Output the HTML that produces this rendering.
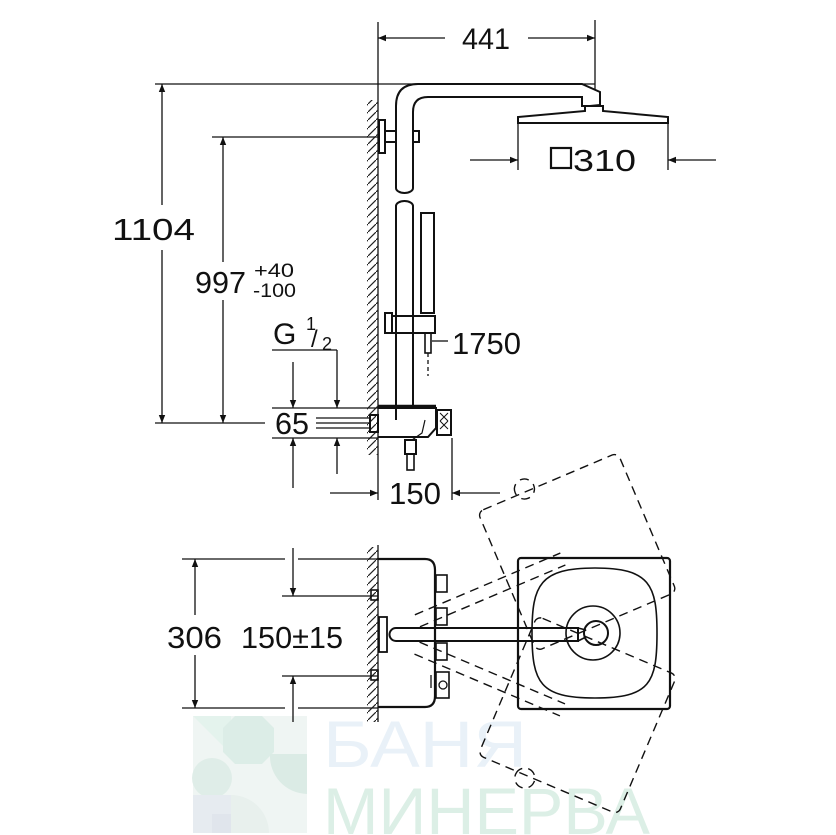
<!DOCTYPE html>
<html><head><meta charset="utf-8"><style>
html,body{margin:0;padding:0;background:#fff;}
svg{display:block;}
text{font-family:"Liberation Sans",Arial,sans-serif;fill:#111;}
</style></head><body>
<svg width="836" height="835" viewBox="0 0 836 835" xmlns="http://www.w3.org/2000/svg">
<defs>
<marker id="a" viewBox="0 0 10 10" refX="10" refY="5" markerWidth="14" markerHeight="8" markerUnits="userSpaceOnUse" orient="auto"><path d="M0,1 L10,5 L0,9z" fill="#111"/></marker>
<pattern id="h" width="8" height="8" patternUnits="userSpaceOnUse"><path d="M0,8 L8,0" stroke="#222" stroke-width="1.2"/></pattern>
</defs>

<g opacity="0.9">
<rect x="193" y="716" width="114" height="117" fill="#eef5f2"/>
<path d="M193,716 h38 v38 z" fill="#e2f2ec"/>
<polygon points="235,716 262,716 274,728 274,752 262,764 235,764 223,752 223,728" fill="#d9ece5"/>
<circle cx="212" cy="778" r="20" fill="#dcece6"/>
<path d="M270,754 h37 v40 a38,38 0 0 1 -37,-40z" fill="#d8e9e3"/>
<rect x="193" y="795" width="38" height="38" fill="#e4e9ef"/>
<rect x="212" y="814" width="19" height="19" fill="#dde3ea"/>
<path d="M231,795 a38,38 0 0 1 38,38 h-38z" fill="#e6efec"/>
</g>
<text x="323" y="767" font-size="66" textLength="204" lengthAdjust="spacingAndGlyphs" style="fill:#e9f1f8">БАНЯ</text>
<text x="323" y="834" font-size="66" textLength="327" lengthAdjust="spacingAndGlyphs" style="fill:#dcefe6">МИНЕРВА</text>

<g fill="none" stroke="#111" stroke-width="1.3">
<line x1="378" y1="22" x2="378" y2="500"/>
<rect x="367" y="100" width="11" height="355" fill="url(#h)" stroke="none"/>
<line x1="595" y1="20" x2="595" y2="90"/>
<line x1="400" y1="38" x2="378" y2="38" marker-end="url(#a)"/>
<line x1="400" y1="38" x2="445" y2="38"/>
<line x1="528" y1="38" x2="595" y2="38" marker-end="url(#a)"/>
<line x1="155" y1="84" x2="595" y2="84"/>
<path d="M396,188 V106 Q396,84 418,84 H582 L600,92 V105 L590,106 H582 V97 H428 Q413,97 413,112 V188" stroke-width="2"/>
<path d="M396,188 a8.5,5 0 0 0 17,0" stroke-width="2"/>
<path d="M585,106 L603,106 L603,111 L668,117 V123 H518 V117 L585,111 Z" stroke-width="2"/>
<line x1="518" y1="123" x2="518" y2="170"/>
<line x1="668" y1="123" x2="668" y2="170"/>
<line x1="470" y1="160" x2="518" y2="160" marker-end="url(#a)"/>
<line x1="716" y1="160" x2="668" y2="160" marker-end="url(#a)"/>
<rect x="551" y="148" width="20" height="20" stroke-width="2.2"/>
<rect x="379" y="120" width="6" height="33" stroke-width="2"/>
<path d="M385,131 H396 M413,131 H419 V142 H413 M396,142 H385" stroke-width="2"/>
<path d="M396,420 V206 a8.5,5 0 0 1 17,0 V408" stroke-width="2"/>
<rect x="421" y="213" width="13" height="100" stroke-width="2"/>
<path d="M385,313 H392 V333 H385 Z" stroke-width="2"/>
<path d="M392,316 H435 V333 H392" stroke-width="2"/>
<rect x="425" y="333" width="6" height="20" stroke-width="1.6"/>
<line x1="428" y1="353" x2="428" y2="376" stroke-dasharray="4,3"/>
<line x1="432" y1="341" x2="448" y2="341"/>
<line x1="212" y1="137" x2="378" y2="137"/>
<line x1="223" y1="160" x2="223" y2="137" marker-end="url(#a)"/>
<line x1="223" y1="160" x2="223" y2="262"/>
<line x1="223" y1="300" x2="223" y2="423" marker-end="url(#a)"/>
<line x1="162" y1="110" x2="162" y2="84" marker-end="url(#a)"/>
<line x1="162" y1="110" x2="162" y2="205"/>
<line x1="162" y1="250" x2="162" y2="423" marker-end="url(#a)"/>
<line x1="155" y1="423" x2="265" y2="423"/>
<line x1="316" y1="423" x2="370" y2="423"/>
<line x1="316" y1="418" x2="370" y2="418"/>
<line x1="316" y1="428" x2="370" y2="428"/>
<line x1="272" y1="408" x2="378" y2="408"/>
<line x1="272" y1="438" x2="378" y2="438"/>
<line x1="293" y1="362" x2="293" y2="408" marker-end="url(#a)"/>
<line x1="293" y1="488" x2="293" y2="438" marker-end="url(#a)"/>
<line x1="272" y1="350" x2="337" y2="350"/>
<line x1="337" y1="350" x2="337" y2="408" marker-end="url(#a)"/>
<line x1="337" y1="474" x2="337" y2="438" marker-end="url(#a)"/>
<path d="M378,408 H436 V428 L428,437 H378" stroke-width="2"/>
<line x1="378" y1="406" x2="436" y2="406" stroke-width="2.5"/>
<rect x="437" y="410" width="14" height="25" stroke-width="2"/>
<path d="M440,413 l8,8 M440,421 l8,8 M448,413 l-8,8 M448,421 l-8,8" stroke-width="1"/>
<rect x="370" y="415" width="8" height="17" stroke-width="2"/>
<rect x="405" y="440" width="11" height="14" stroke-width="2"/>
<rect x="407" y="454" width="7" height="16" stroke-width="1.6"/>
<path d="M425,420 L422,433 L412,440" stroke-width="1.2"/>
<line x1="452" y1="438" x2="452" y2="500"/>
<line x1="330" y1="493" x2="378" y2="493" marker-end="url(#a)"/>
<line x1="500" y1="493" x2="452" y2="493" marker-end="url(#a)"/>

<line x1="378" y1="545" x2="378" y2="722"/>
<rect x="367" y="547" width="11" height="175" fill="url(#h)" stroke="none"/>
<line x1="182" y1="559" x2="285" y2="559"/>
<line x1="298" y1="559" x2="378" y2="559"/>
<line x1="182" y1="708" x2="285" y2="708"/>
<line x1="298" y1="708" x2="378" y2="708"/>
<line x1="195" y1="590" x2="195" y2="559" marker-end="url(#a)"/>
<line x1="195" y1="590" x2="195" y2="615"/>
<line x1="195" y1="655" x2="195" y2="708" marker-end="url(#a)"/>
<line x1="282" y1="596" x2="378" y2="596"/>
<line x1="282" y1="676" x2="378" y2="676"/>
<line x1="293" y1="548" x2="293" y2="596" marker-end="url(#a)"/>
<line x1="293" y1="722" x2="293" y2="676" marker-end="url(#a)"/>
<path d="M378,559 H425 Q435,559 435,570 V696 Q435,707 425,707 H378" stroke-width="2.2"/>
<rect x="436" y="575" width="11" height="17" stroke-width="1.6"/>
<rect x="436" y="608" width="11" height="17" stroke-width="1.6"/>
<rect x="436" y="643" width="11" height="17" stroke-width="1.6"/>
<rect x="436" y="672" width="13" height="26" stroke-width="1.6"/>
<circle cx="443" cy="685" r="4"/>
<rect x="371" y="590" width="7" height="10" stroke-width="1.6"/>
<rect x="371" y="670" width="7" height="10" stroke-width="1.6"/>
<rect x="379" y="617" width="8" height="35" stroke-width="1.8"/>
<line x1="431" y1="675" x2="431" y2="688"/>
<path d="M578,628 H396 a6.5,6.5 0 0 0 0,13 H578 Z" stroke-width="2"/>
<g stroke-dasharray="9,6" stroke-width="1.4">
<g transform="rotate(-23 385 634)">
<rect x="518" y="558" width="152" height="151" rx="6"/>
<line x1="420" y1="628" x2="578" y2="628"/>
<line x1="420" y1="641" x2="578" y2="641"/>
<path d="M560,555 a10,10 0 0 1 20,0 a10,10 0 0 1 -20,0"/>
</g>
<g transform="rotate(23 385 634)">
<rect x="518" y="558" width="152" height="151" rx="6"/>
<line x1="420" y1="628" x2="578" y2="628"/>
<line x1="420" y1="641" x2="578" y2="641"/>
<path d="M560,712 a10,10 0 0 1 20,0 a10,10 0 0 1 -20,0"/>
</g>
</g>
<rect x="518" y="558" width="152" height="151" rx="3" stroke-width="2.2" fill="none"/>
<path d="M595,568 C650,568 657,585 657,633 C657,683 650,698 595,698 C540,698 532,683 532,633 C532,585 540,568 595,568 Z" stroke-width="1.6"/>
<circle cx="593" cy="633" r="27" stroke-width="1.6"/>
<circle cx="596" cy="633" r="12" stroke-width="2"/>
<path d="M578,628 L586,630 M578,641 L586,637" stroke-width="1.6"/>
</g>

<g>
<text x="462" y="49" font-size="30" textLength="48" lengthAdjust="spacingAndGlyphs">441</text>
<text x="112" y="240" font-size="31" textLength="83" lengthAdjust="spacingAndGlyphs">1104</text>
<text x="195" y="293" font-size="31" textLength="51" lengthAdjust="spacingAndGlyphs">997</text>
<text x="254" y="277" font-size="19" textLength="40" lengthAdjust="spacingAndGlyphs">+40</text>
<text x="253" y="297" font-size="19" textLength="43" lengthAdjust="spacingAndGlyphs">-100</text>
<text x="573" y="171" font-size="31" textLength="63" lengthAdjust="spacingAndGlyphs">310</text>
<text x="452" y="354" font-size="31" textLength="69" lengthAdjust="spacingAndGlyphs">1750</text>
<text x="273" y="344" font-size="30">G</text>
<text x="306" y="330" font-size="18">1</text>
<text x="311" y="347" font-size="24">/</text>
<text x="322" y="350" font-size="18">2</text>
<text x="275" y="434" font-size="31" textLength="34" lengthAdjust="spacingAndGlyphs">65</text>
<text x="389" y="504" font-size="31" textLength="52" lengthAdjust="spacingAndGlyphs">150</text>
<text x="167" y="648" font-size="31" textLength="55" lengthAdjust="spacingAndGlyphs">306</text>
<text x="241" y="648" font-size="31" textLength="102" lengthAdjust="spacingAndGlyphs">150±15</text>
</g>
</svg>
</body></html>
